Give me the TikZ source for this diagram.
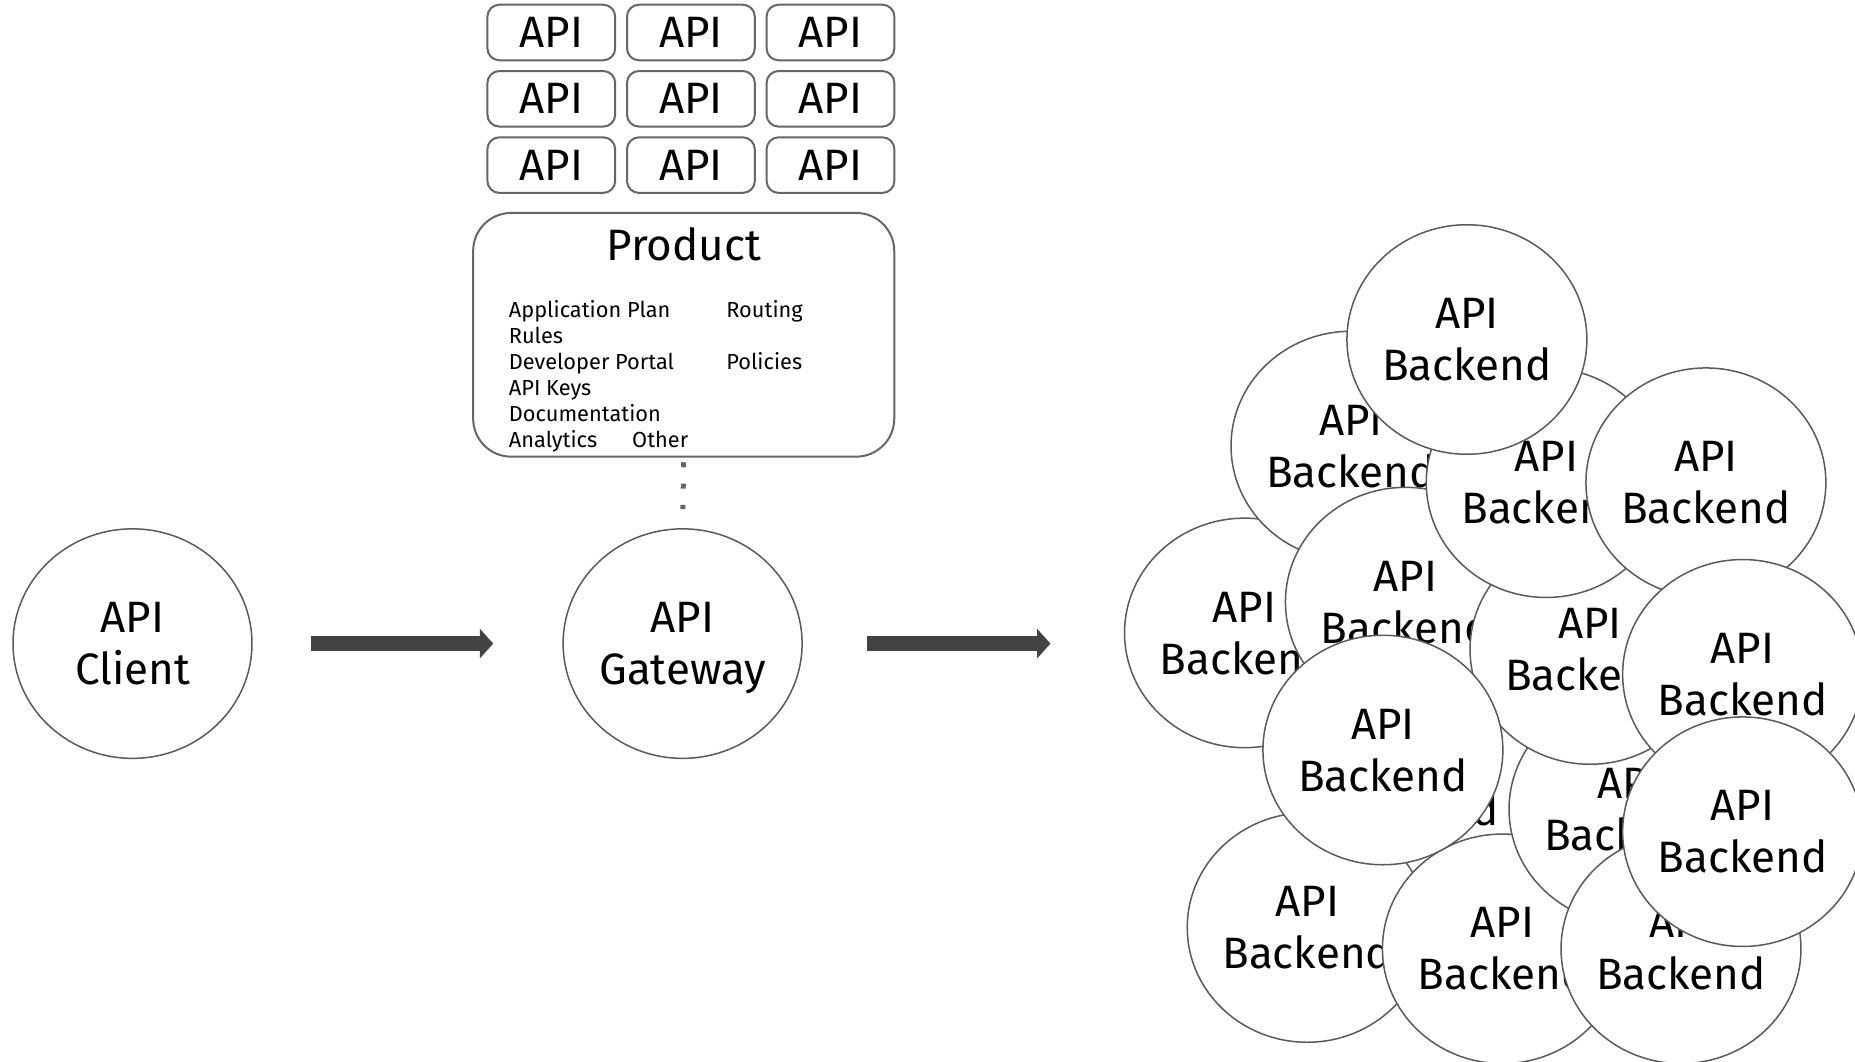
\documentclass[tikz,border=0pt]{standalone}
\usepackage{fontspec}
\setmainfont{Fira Sans}
\usepackage{tikz}
\usetikzlibrary{positioning}
\usetikzlibrary{shapes.geometric}
\usetikzlibrary{arrows.meta}
\definecolor{boxgray}{HTML}{666666}
\definecolor{linegray}{HTML}{5A5A5A}
\definecolor{arrowgray}{HTML}{434343}
\newcommand{\apifont}{\fontsize{12.5}{14.8}\selectfont}
\newcommand{\listfont}{\fontsize{6.2}{7.4}\selectfont}
\tikzset{
	apibox/.style={draw=boxgray, rectangle, rounded corners=0.12cm, line width=0.02cm, inner sep=0pt, minimum width=1.278cm, minimum height=0.556cm, font=\apifont},
	product/.style={draw=boxgray, rectangle, rounded corners=0.38cm, line width=0.02cm, inner sep=0pt, minimum width=4.211cm, minimum height=2.437cm},
	endpoint/.style={draw=linegray, ellipse, fill=white, line width=0.015cm, inner sep=0pt, minimum width=2.39cm, minimum height=2.295cm, align=center, text depth=0pt, font=\apifont},
	% the cluster on the right, drawn back to front
	backend/.style={endpoint},
	listtext/.style={inner sep=0pt, align=left, font=\listfont},
	flow/.style={arrowgray, line width=0.157cm, -{Triangle[length=1.33mm, width=2.87mm]}},
	dotline/.style={boxgray, line width=0.05cm, dash pattern=on 0.05cm off 0.163cm},
}

\begin{document}
\begin{tikzpicture}
	\useasboundingbox (0,0) rectangle (18.55,-10.62);

	\node (a11) [apibox] at (5.513,-0.325) {API};
	\node (a12) [apibox, right of=a11, xshift=0.396cm] {API};
	\node (a13) [apibox, right of=a12, xshift=0.396cm] {API};
	\node (a21) [apibox, below of=a11, yshift=0.337cm] {API};
	\node (a22) [apibox, right of=a21, xshift=0.396cm] {API};
	\node (a23) [apibox, right of=a22, xshift=0.396cm] {API};
	\node (a31) [apibox, below of=a21, yshift=0.337cm] {API};
	\node (a32) [apibox, right of=a31, xshift=0.396cm] {API};
	\node (a33) [apibox, right of=a32, xshift=0.396cm] {API};

	\node (prod) [product] at (6.837,-3.348) {};
	\node (ptitle) [inner sep=0pt, font=\apifont, below=0.15cm of prod.north] {Product};
	\node (plist) [listtext, below right=0.88cm and 0.36cm of prod.north west] {Application Plan\\Rules\\Developer Portal\\API Keys\\Documentation\\Analytics\hspace{0.35cm}Other};
	\node (pside) [listtext, below right=0.88cm and 2.535cm of prod.north west] {Routing\\[7.4pt]Policies};

	\node (client) [endpoint] at (1.325,-6.436) {API\\Client};
	\node (gw) [endpoint, right of=client, xshift=4.501cm] {API\\Gateway};
	\coordinate[right of=gw, xshift=2.679cm] (tgt);

	\node (be1) [backend] at (12.445,-6.329) {API\\Backend};
	\node (be2) [backend] at (13.510,-4.460) {API\\Backend};
	\node (be3) [backend] at (14.054,-6.021) {API\\Backend};
	\node (be4) [backend] at (14.137,-7.843) {API\\Backend};
	\node (be5) [backend] at (13.072,-9.275) {API\\Backend};
	\node (be6) [backend] at (15.024,-9.488) {API\\Backend};
	\node (be7) [backend] at (16.290,-8.092) {API\\Backend};
	\node (be8) [backend] at (15.900,-6.495) {API\\Backend};
	\node (be9) [backend] at (15.462,-4.827) {API\\Backend};
	\node (be10) [backend] at (14.669,-3.395) {API\\Backend};
	\node (be11) [backend] at (17.059,-4.827) {API\\Backend};
	\node (be12) [backend] at (17.426,-6.743) {API\\Backend};
	\node (be13) [backend] at (16.810,-9.488) {API\\Backend};
	\node (be14) [backend] at (17.426,-8.317) {API\\Backend};
	\node (be15) [backend] at (13.829,-7.500) {API\\Backend};

	\draw [dotline, shorten <=0.046cm, shorten >=0.19cm] (prod.south) -- (gw.north);
	\draw [flow, shorten <=0.58cm, shorten >=0.691cm] (client) -- (gw);
	\draw [flow, shorten <=0.639cm] (gw) -- (tgt);
\end{tikzpicture}
\end{document}
